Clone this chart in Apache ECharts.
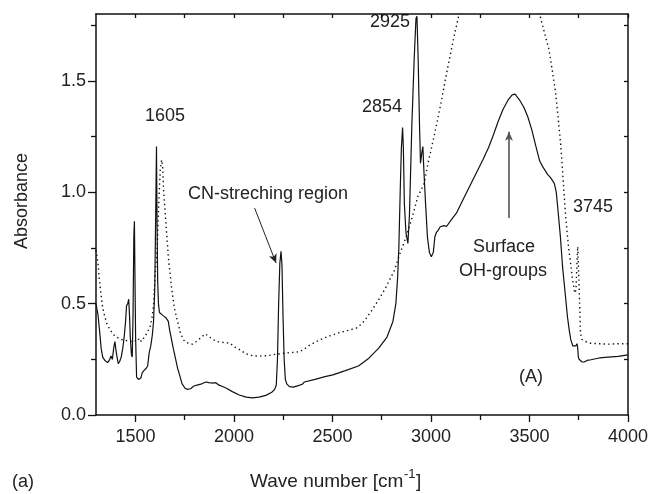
<!DOCTYPE html>
<html><head><meta charset="utf-8">
<script src="https://cdn.jsdelivr.net/npm/echarts@6/dist/echarts.min.js"></script>
<style>html,body{margin:0;padding:0;background:#fff}#c{width:651px;height:494px}</style>
</head><body><div id="c"></div>
<script>
const waveSolid = [1300,1310,1318,1326,1334,1345,1359,1370,1376,1383,1390,1396,1403,1413,1420,1428,1436,1443,1450,1455,1461,1466,1470,1474,1480,1484,1488,1492,1495,1498,1501,1506,1515,1527,1535,1544,1555,1562,1570,1578,1586,1592,1598,1603,1607,1610,1613,1617,1622,1632,1642,1656,1667,1674,1681,1692,1702,1714,1724,1737,1752,1765,1780,1797,1817,1837,1858,1872,1882,1897,1909,1922,1942,1962,1992,2027,2062,2094,2127,2162,2192,2207,2215,2221,2227,2233,2239,2244,2249,2255,2261,2268,2282,2302,2327,2347,2357,2367,2412,2462,2502,2562,2632,2685,2735,2777,2807,2822,2831,2837,2845,2850,2856,2860,2865,2873,2883,2891,2903,2915,2924,2929,2935,2942,2947,2954,2959,2964,2972,2982,2992,3002,3012,3020,3028,3037,3047,3057,3067,3079,3102,3129,3162,3196,3232,3263,3292,3314,3342,3365,3392,3412,3427,3449,3472,3491,3512,3533,3552,3567,3592,3609,3626,3636,3643,3657,3668,3682,3693,3702,3710,3720,3727,3735,3741,3745,3748,3752,3767,3778,3792,3812,3854,3900,3950,4000];
const absSolid = [0.50,0.45,0.38,0.30,0.26,0.245,0.235,0.25,0.265,0.25,0.30,0.33,0.28,0.23,0.24,0.26,0.30,0.35,0.42,0.49,0.50,0.52,0.45,0.35,0.27,0.26,0.45,0.80,0.87,0.60,0.35,0.17,0.16,0.165,0.19,0.20,0.21,0.22,0.28,0.31,0.36,0.42,0.56,0.90,1.205,0.85,0.60,0.50,0.46,0.455,0.445,0.435,0.42,0.38,0.35,0.30,0.26,0.21,0.18,0.14,0.12,0.115,0.118,0.13,0.135,0.14,0.148,0.145,0.14,0.143,0.145,0.135,0.128,0.12,0.105,0.09,0.08,0.077,0.08,0.088,0.102,0.115,0.135,0.25,0.50,0.68,0.735,0.67,0.45,0.25,0.16,0.14,0.127,0.125,0.132,0.138,0.148,0.146,0.16,0.172,0.18,0.198,0.22,0.255,0.30,0.35,0.42,0.50,0.62,0.75,1.04,1.20,1.29,1.20,0.95,0.82,0.77,0.90,1.30,1.60,1.78,1.79,1.60,1.30,1.13,1.18,1.205,1.10,0.96,0.80,0.73,0.71,0.73,0.80,0.82,0.83,0.845,0.84,0.85,0.846,0.875,0.906,0.965,1.026,1.09,1.145,1.20,1.25,1.32,1.37,1.415,1.437,1.44,1.415,1.38,1.34,1.28,1.205,1.14,1.115,1.08,1.063,1.04,1.00,0.936,0.80,0.666,0.54,0.44,0.38,0.337,0.31,0.305,0.31,0.32,0.30,0.26,0.25,0.238,0.238,0.245,0.248,0.256,0.26,0.263,0.27];
const waveDotted = [1300,1310,1316,1323,1331,1339,1355,1373,1395,1424,1450,1475,1491,1500,1510,1520,1530,1542,1560,1576,1585,1592,1601,1610,1618,1626,1633,1638,1643,1655,1668,1685,1698,1711,1728,1744,1760,1778,1790,1810,1830,1854,1870,1890,1913,1950,1980,2005,2031,2060,2098,2130,2166,2210,2250,2290,2334,2360,2385,2419,2452,2486,2537,2580,2621,2650,2672,2700,2722,2750,2773,2795,2815,2833,2849,2870,2891,2912,2933,2950,2966,2985,3008,3030,3051,3072,3093,3120,3144,3200,3280,3380,3470,3530,3557,3578,3599,3617,3633,3646,3658,3667,3675,3684,3692,3700,3709,3717,3724,3730,3736,3741,3745,3749,3754,3759,3765,3784,3810,3852,3900,3950,4000];
const absDotted = [0.74,0.68,0.62,0.56,0.50,0.46,0.41,0.38,0.355,0.34,0.335,0.33,0.335,0.34,0.33,0.345,0.33,0.345,0.37,0.40,0.44,0.49,0.64,0.74,0.94,1.10,1.145,1.12,1.01,0.86,0.70,0.56,0.48,0.43,0.37,0.337,0.325,0.32,0.318,0.33,0.345,0.364,0.355,0.34,0.33,0.325,0.322,0.305,0.292,0.275,0.265,0.265,0.266,0.272,0.277,0.28,0.284,0.298,0.314,0.33,0.344,0.355,0.37,0.38,0.39,0.41,0.434,0.47,0.50,0.54,0.576,0.615,0.65,0.70,0.74,0.79,0.846,0.91,0.98,1.01,1.04,1.13,1.22,1.31,1.40,1.50,1.595,1.71,1.805,2.02,2.22,2.30,2.15,1.90,1.78,1.71,1.64,1.54,1.445,1.33,1.22,1.11,1.00,0.89,0.81,0.74,0.68,0.62,0.58,0.547,0.56,0.68,0.756,0.65,0.516,0.37,0.34,0.33,0.322,0.32,0.318,0.32,0.32];
const xMajorTicks = [1500,2000,2500,3000,3500,4000];
const xMinorTicks = [1750,2250,2750,3250,3750];
const xAllTicks = [1500,1750,2000,2250,2500,2750,3000,3250,3500,3750,4000];
const yMajorTicks = [0,0.5,1.0,1.5];
const yMinorTicks = [0.25,0.75,1.25,1.75];
const yAllTicks = [0.25,0.5,0.75,1.0,1.25,1.5,1.75];

const FONT = '"Liberation Sans", Arial, sans-serif';
const TXT = '#222';
const solidData = waveSolid.map((w,i)=>[w,absSolid[i]]);
const dottedData = waveDotted.map((w,i)=>[w,absDotted[i]]);

function xax(extra){ return Object.assign({type:'value',min:1300,max:4000,splitLine:{show:false},axisLabel:{show:false},axisLine:{show:false,onZero:false},axisTick:{show:false}},extra); }
function yax(extra){ return Object.assign({type:'value',min:0,max:1.8,splitLine:{show:false},axisLabel:{show:false},axisLine:{show:false,onZero:false},axisTick:{show:false}},extra); }

const chart = echarts.init(document.getElementById('c'), null, {renderer:'canvas'});
chart.setOption({
  animation:false,
  backgroundColor:'#fff',
  grid:{left:96,right:22,top:14,bottom:79,containLabel:false},
  xAxis:[
    xax({position:'bottom',
      axisLine:{show:true,onZero:false,lineStyle:{color:'#111',width:1.5}},
      axisTick:{show:true,customValues:xMajorTicks,length:7,lineStyle:{color:'#111',width:1.3}},
      axisLabel:{show:true,customValues:xMajorTicks,fontSize:18,color:TXT,fontFamily:FONT,margin:13,formatter:v=>String(Math.round(v))}}),
    xax({position:'bottom',
      axisTick:{show:true,customValues:xMinorTicks,length:5,lineStyle:{color:'#111',width:1.3}}}),
    xax({position:'top',
      axisLine:{show:true,onZero:false,lineStyle:{color:'#111',width:1.5}},
      axisTick:{show:true,inside:true,customValues:xAllTicks,length:4,lineStyle:{color:'#111',width:1.3}}})
  ],
  yAxis:[
    yax({position:'left',
      axisLine:{show:true,onZero:false,lineStyle:{color:'#111',width:1.5}},
      axisTick:{show:true,customValues:yMajorTicks,length:8,lineStyle:{color:'#111',width:1.3}},
      axisLabel:{show:true,customValues:yMajorTicks,fontSize:18,color:TXT,fontFamily:FONT,margin:10,formatter:v=>Number(v).toFixed(1)}}),
    yax({position:'left',
      axisTick:{show:true,customValues:yMinorTicks,length:5,lineStyle:{color:'#111',width:1.3}}}),
    yax({position:'right',
      axisLine:{show:true,onZero:false,lineStyle:{color:'#111',width:1.5}},
      axisTick:{show:true,inside:true,customValues:yAllTicks,length:4,lineStyle:{color:'#111',width:1.3}}})
  ],
  series:[
    {type:'line',xAxisIndex:0,yAxisIndex:0,data:dottedData,showSymbol:false,symbol:'none',clip:true,
     lineStyle:{color:'#111',width:1.4,type:[1.4,3.2]}},
    {type:'line',xAxisIndex:0,yAxisIndex:0,data:solidData,showSymbol:false,symbol:'none',clip:true,
     lineStyle:{color:'#111',width:1.2},
     markLine:{silent:true,symbol:['none','arrow'],symbolSize:[6,9],label:{show:false},animation:false,
       data:[
         [{coord:[2105,0.929],lineStyle:{color:'#222',width:1,type:'solid'}},{coord:[2214,0.682]}],
         [{coord:[3396,0.884],lineStyle:{color:'#555',width:1.6,type:'solid'}},{coord:[3396,1.272]}]
       ]}}
  ],
  graphic:[
    {type:'text',x:165,y:116,style:{text:'1605',fontSize:18,fontFamily:FONT,fill:TXT,align:'center',verticalAlign:'middle'}},
    {type:'text',x:188,y:194,style:{text:'CN-streching region',fontSize:18,fontFamily:FONT,fill:TXT,align:'left',verticalAlign:'middle'}},
    {type:'text',x:382,y:107,style:{text:'2854',fontSize:18,fontFamily:FONT,fill:TXT,align:'center',verticalAlign:'middle'}},
    {type:'text',x:390,y:22,style:{text:'2925',fontSize:18,fontFamily:FONT,fill:TXT,align:'center',verticalAlign:'middle'}},
    {type:'text',x:593,y:207,style:{text:'3745',fontSize:18,fontFamily:FONT,fill:TXT,align:'center',verticalAlign:'middle'}},
    {type:'text',x:504,y:247,style:{text:'Surface',fontSize:18,fontFamily:FONT,fill:TXT,align:'center',verticalAlign:'middle'}},
    {type:'text',x:503,y:271,style:{text:'OH-groups',fontSize:18,fontFamily:FONT,fill:TXT,align:'center',verticalAlign:'middle'}},
    {type:'text',x:531,y:377,style:{text:'(A)',fontSize:18,fontFamily:FONT,fill:TXT,align:'center',verticalAlign:'middle'}},
    {type:'text',x:12,y:482,style:{text:'(a)',fontSize:18,fontFamily:FONT,fill:TXT,align:'left',verticalAlign:'middle'}},
    {type:'text',x:250,y:482,style:{text:'Wave number [cm',fontSize:19,fontFamily:FONT,fill:TXT,align:'left',verticalAlign:'middle'}},
    {type:'text',x:404,y:474,style:{text:'-1',fontSize:13,fontFamily:FONT,fill:TXT,align:'left',verticalAlign:'middle'}},
    {type:'text',x:416,y:482,style:{text:']',fontSize:19,fontFamily:FONT,fill:TXT,align:'left',verticalAlign:'middle'}},
    {type:'text',x:22,y:201,rotation:Math.PI/2,style:{text:'Absorbance',fontSize:18,fontFamily:FONT,fill:TXT,align:'center',verticalAlign:'middle'}}
  ]
});
</script></body></html>
